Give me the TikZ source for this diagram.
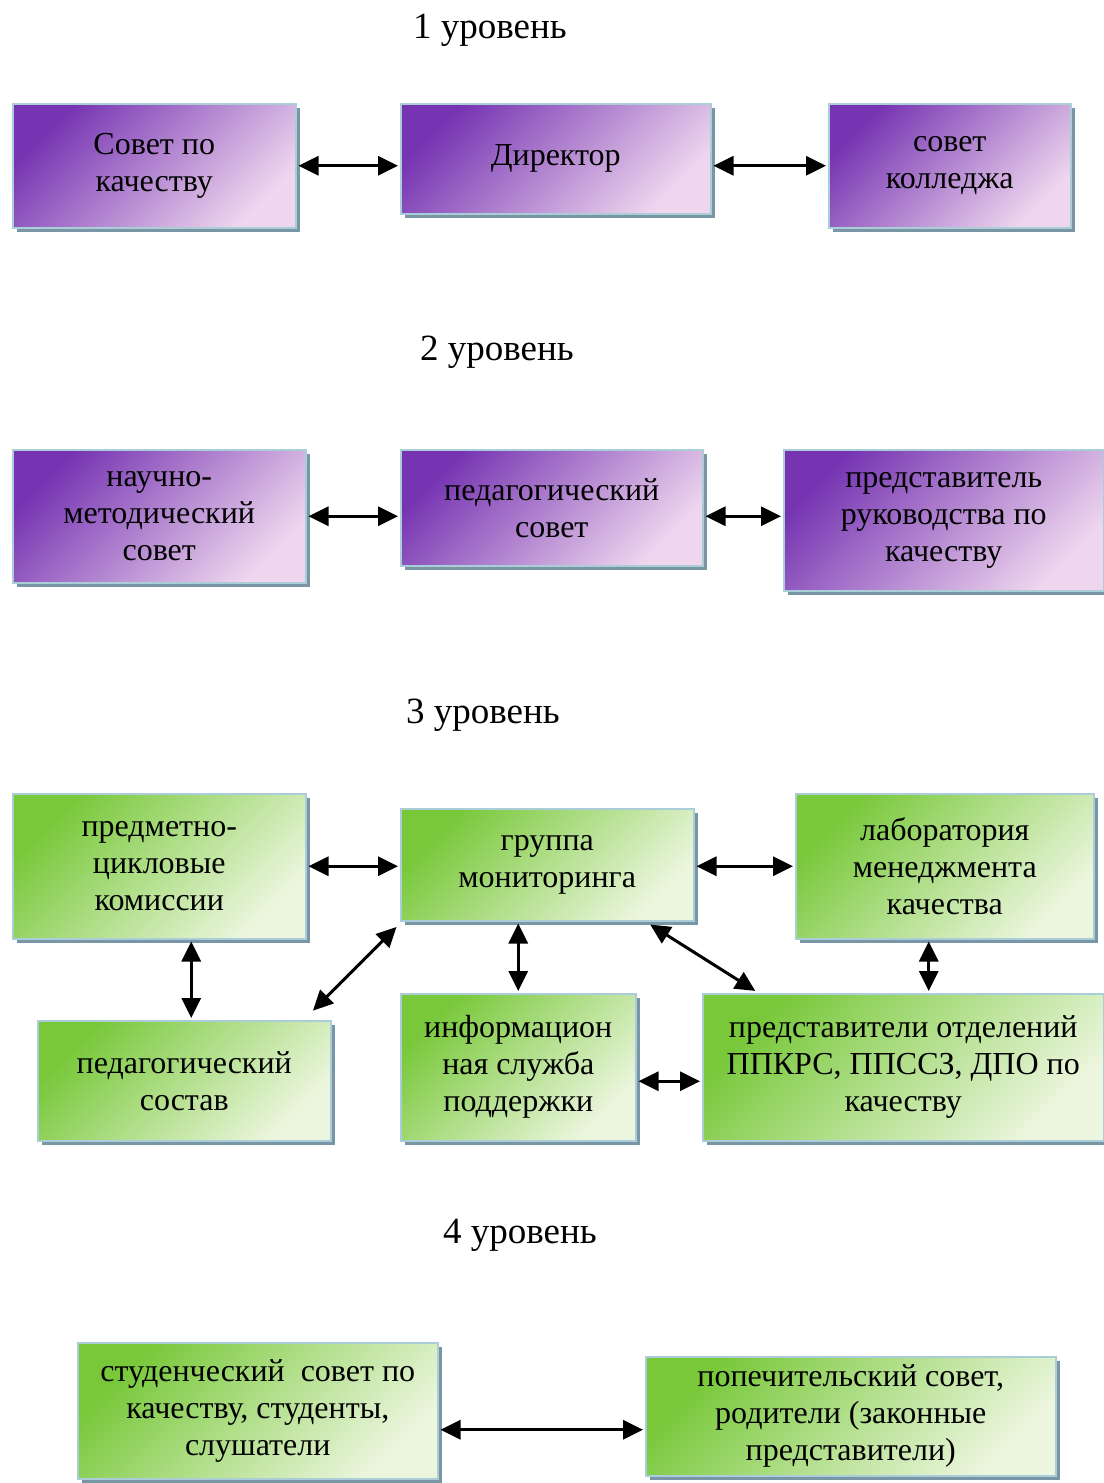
\documentclass[tikz,border=0pt]{standalone}
\usepackage{fontspec}
\setmainfont{Liberation Serif}
\usepackage{tikz}
\usetikzlibrary{
    arrows.meta,
    positioning,
    shadows,
    calc
}

\definecolor{purpleDark}{RGB}{118,52,178}
\definecolor{purpleLight}{RGB}{238,214,238}
\definecolor{greenDark}{RGB}{120,200,58}
\definecolor{greenLight}{RGB}{236,246,222}
\definecolor{boxBorder}{RGB}{170,205,215}
\definecolor{boxShadow}{RGB}{120,150,165}

\begin{document}
\begin{tikzpicture}[
            x=1pt, y=-1pt,
            base_block/.style={rectangle, draw=boxBorder, line width=1.5pt, anchor=north west, inner sep=2pt, align=center,
                font=\fontsize{32}{37}\selectfont,
                drop shadow={shadow xshift=4pt, shadow yshift=-4pt, fill=boxShadow, opacity=1}},
            purple_block/.style={base_block, top color=purpleDark, bottom color=purpleLight, shading angle=45},
            green_block/.style={base_block, top color=greenDark, bottom color=greenLight, shading angle=45},
            level_title/.style={font=\fontsize{37}{42}\selectfont},
            both_arrow/.style={{Triangle[length=20pt,width=19pt]}-{Triangle[length=20pt,width=19pt]}, line width=3pt, black, shorten >=2pt, shorten <=2pt}
        ]
    \useasboundingbox (0,0) rectangle (1103,1483);

    % level 1
    \node[level_title] (title1) at (490,30) {1 уровень};
    \node[purple_block, minimum width=283pt, minimum height=124pt] (quality_council) at (12,103) {Совет по\\качеству};
    \node[purple_block, minimum width=310pt, minimum height=110pt] (director) at (400,103) {Директор};
    \node[purple_block, minimum width=242pt, minimum height=124pt] (college_council) at (828,103) {совет\\колледжа};

    \draw[both_arrow] (quality_council.east) -- (quality_council.east -| director.west);
    \draw[both_arrow] (college_council.west) -- (college_council.west -| director.east);

    % level 2
    \node[level_title] (title2) at (497,352) {2 уровень};
    \node[purple_block, minimum width=293pt, minimum height=133pt] (method_council) at (12,449) {научно-\\методический\\совет};
    \node[purple_block, minimum width=302pt, minimum height=116pt] (ped_council) at (400,449) {педагогический\\совет};
    \node[purple_block, minimum width=320pt, minimum height=141pt] (quality_rep) at (783,449) {представитель\\руководства по\\качеству};

    \draw[both_arrow] (method_council.east) -- (method_council.east -| ped_council.west);
    \draw[both_arrow] (method_council.east -| ped_council.east) -- (method_council.east -| quality_rep.west);

    % level 3
    \node[level_title] (title3) at (483,715) {3 уровень};
    \node[green_block, minimum width=293pt, minimum height=145pt] (subject_comm) at (12,793) {предметно-\\цикловые\\комиссии};
    \node[green_block, minimum width=293pt, minimum height=112pt] (monitoring) at (400,808) {группа\\мониторинга};
    \node[green_block, minimum width=298pt, minimum height=145pt] (lab) at (795,793) {лаборатория\\менеджмента\\качества};
    \node[green_block, minimum width=293pt, minimum height=120pt] (ped_staff) at (37,1020) {педагогический\\состав};
    \node[green_block, minimum width=235pt, minimum height=147pt] (info_service) at (400,993) {информацион\\ная служба\\поддержки};
    \node[green_block, minimum width=401pt, minimum height=147pt] (dept_reps) at (702,993) {представители отделений\\ППКРС, ППССЗ, ДПО по\\качеству};

    \draw[both_arrow] (subject_comm.east) -- (subject_comm.east -| monitoring.west);
    \draw[both_arrow] (lab.west) -- (lab.west -| monitoring.east);
    \coordinate (staff_top) at ($(ped_staff.north)+(7,0)$);
    \draw[both_arrow] (staff_top) -- (staff_top |- subject_comm.south);
    \draw[both_arrow] ($(ped_staff.north east)+(-20,-8)$) -- ($(monitoring.south west)+(-2,4)$);
    \draw[both_arrow] (info_service.north) -- (info_service.north |- monitoring.south);
    \draw[both_arrow] ($(monitoring.south east)+(-46,2)$) -- ($(dept_reps.north west)+(55,-1)$);
    \coordinate (lab_bottom) at ($(lab.south)+(-16,0)$);
    \draw[both_arrow] (lab_bottom) -- (lab_bottom |- dept_reps.north);
    \coordinate (info_right) at ($(info_service.east)+(0,14)$);
    \draw[both_arrow] (info_right) -- (info_right -| dept_reps.west);

    % level 4
    \node[level_title] (title4) at (520,1235) {4 уровень};
    \node[green_block, minimum width=360pt, minimum height=136pt] (student_council) at (77,1342) {студенческий\ \ совет по\\качеству, студенты,\\слушатели};
    \node[green_block, minimum width=410pt, minimum height=119pt] (trustees) at (645,1356) {попечительский совет,\\родители (законные\\представители)};

    \coordinate (student_right) at ($(student_council.east)+(0,19)$);
    \draw[both_arrow] (student_right) -- (student_right -| trustees.west);

\end{tikzpicture}
\end{document}
